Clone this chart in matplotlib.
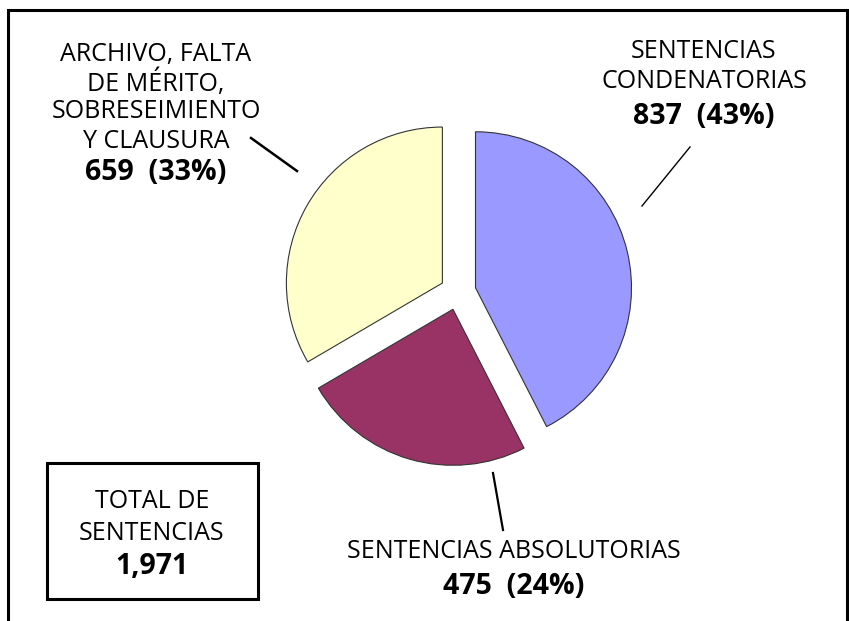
import matplotlib
matplotlib.use('Agg')
import matplotlib.pyplot as plt
from matplotlib.patches import Rectangle

# data
categorias = ['SENTENCIAS\nCONDENATORIAS', 'SENTENCIAS ABSOLUTORIAS',
              'ARCHIVO, FALTA\nDE MÉRITO,\nSOBRESEIMIENTO\nY CLAUSURA']
valores = [837, 475, 659]
porcentajes = ['43%', '24%', '33%']
total = 1971
colores = ['#9999FF', '#993366', '#FFFFCC']

plt.rcParams['font.family'] = ['Open Sans', 'DejaVu Sans']

fig = plt.figure(figsize=(8.49, 6.21), dpi=100, facecolor='white')
ax = fig.add_axes([0, 0, 1, 1])

# pie in pixel coords (y grows downward)
ax.pie(valores, colors=colores, center=(458, 292), radius=156,
       startangle=270, counterclock=True, explode=[18, 18, 18],
       wedgeprops=dict(edgecolor='#333333', linewidth=0.8))

ax.set_xlim(0, 849)
ax.set_ylim(621, 0)
ax.set_aspect('auto')
ax.axis('off')

# outer frame (no bottom line)
ax.plot([8.5, 8.5, 847, 847], [621, 10, 10, 621], color='black', lw=2.2,
        solid_capstyle='butt', solid_joinstyle='miter')

fs = 18
def etiqueta(x, ys, lineas, valor, pct):
    for y, t in zip(ys[:-1], lineas):
        ax.text(x, y, t, ha='center', va='center', fontsize=fs, color='black')
    ax.text(x, ys[-1], f'{valor:,}  ({pct})', ha='center', va='center',
            fontsize=20.5, fontweight='bold', color='black')

etiqueta(704, [52, 82, 116], categorias[0].split('\n'), valores[0], porcentajes[0])
etiqueta(514, [552, 587], [categorias[1]], valores[1], porcentajes[1])
etiqueta(156, [54, 83, 112, 142, 173], categorias[2].split('\n'), valores[2], porcentajes[2])

# leader lines
ax.plot([690, 642], [147, 206], color='black', lw=1.0)
ax.plot([493, 503], [473, 530], color='black', lw=1.6)
ax.plot([251, 297], [138, 171], color='black', lw=1.8)

# total box
ax.add_patch(Rectangle((47, 463), 211, 136, fill=False, edgecolor='black', lw=2.2))
ax.text(152, 502, 'TOTAL DE', ha='center', va='center', fontsize=fs)
ax.text(152, 533, 'SENTENCIAS', ha='center', va='center', fontsize=fs)
ax.text(152, 567, f'{total:,}', ha='center', va='center', fontsize=20.5, fontweight='bold')

fig.savefig('out.png', dpi=100, facecolor='white')
